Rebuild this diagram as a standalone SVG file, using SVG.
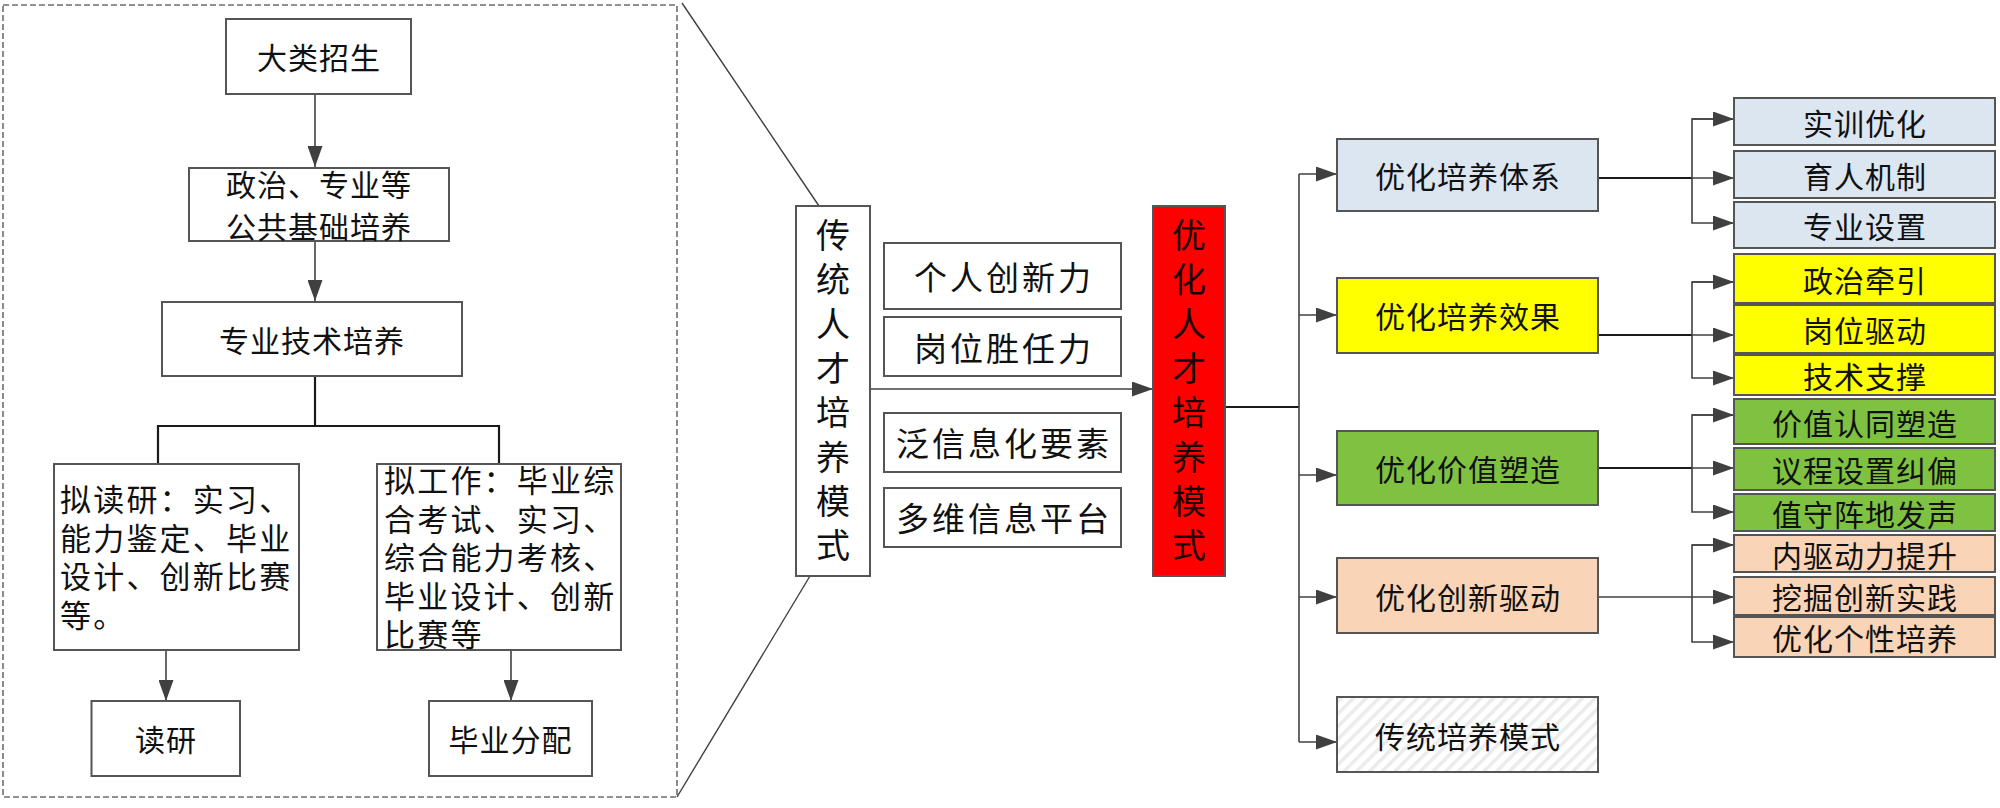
<svg xmlns="http://www.w3.org/2000/svg" width="2000" height="808" viewBox="0 0 2000 808">
<style>
text{font-family:"Noto Sans CJK SC","Noto Sans",sans-serif;fill:#111;dominant-baseline:central}
.c{text-anchor:middle}
.b{stroke:#555;stroke-width:2}
.w{fill:#fff}
.blue{fill:#dce6f1}
.yel{fill:#ffff00}
.grn{fill:#7fc242}
.pch{fill:#f9d4b7}
.red{fill:#ff0000}
.ln{fill:none;stroke:#404040;stroke-width:1.6}
.lk{fill:none;stroke:#1a1a1a;stroke-width:2.2}
.f30{font-size:30px;letter-spacing:1px}
.f32{font-size:31px;letter-spacing:2.2px}
.f34{font-size:33px;letter-spacing:3px}
.v{font-size:34px}
</style>
<defs>
<marker id="ah" viewBox="0 0 21 15" refX="21" refY="7.5" markerWidth="21" markerHeight="15" markerUnits="userSpaceOnUse" orient="auto">
<path d="M0,0 L21,7.5 L0,15 z" fill="#404040"/>
</marker>
<pattern id="hatch" width="9" height="9" patternUnits="userSpaceOnUse" patternTransform="rotate(45)">
<rect width="9" height="9" fill="#fff"/>
<rect width="3.5" height="9" fill="#ebebeb"/>
</pattern>
</defs>

<g id="frame">
<rect x="3" y="5" width="674" height="792" fill="none" stroke="#6e6e6e" stroke-width="1.6" stroke-dasharray="6,3"/>
<line x1="682" y1="3" x2="819" y2="206" stroke="#404040" stroke-width="1.4"/>
<line x1="677" y1="797" x2="810" y2="576" stroke="#404040" stroke-width="1.4"/>
</g>

<g id="connectors">
<path class="ln" d="M315,94 V167" marker-end="url(#ah)"/>
<path class="ln" d="M315,241 V301" marker-end="url(#ah)"/>
<path class="lk" d="M315,376 V426 M158,464 V426 H499 V464"/>
<path class="ln" d="M166,650 V701" marker-end="url(#ah)"/>
<path class="ln" d="M511,650 V701" marker-end="url(#ah)"/>
<path class="ln" d="M870,389 H1153" marker-end="url(#ah)"/>
<path class="lk" d="M1225,407 H1299"/>
<path class="ln" d="M1299,174 V742"/>
<path class="ln" d="M1299,174 H1337" marker-end="url(#ah)"/>
<path class="ln" d="M1299,315 H1337" marker-end="url(#ah)"/>
<path class="ln" d="M1299,475 H1337" marker-end="url(#ah)"/>
<path class="ln" d="M1299,597 H1337" marker-end="url(#ah)"/>
<path class="ln" d="M1299,742 H1337" marker-end="url(#ah)"/>
<path class="lk" d="M1598,178 H1692"/>
<path class="ln" d="M1692,178 H1734" marker-end="url(#ah)"/>
<path class="ln" d="M1734,119 H1692 V223 H1734" marker-end="url(#ah)"/>
<path class="ln" d="M1692,119 H1734" marker-end="url(#ah)"/>
<path class="lk" d="M1598,335 H1692"/>
<path class="ln" d="M1692,335 H1734" marker-end="url(#ah)"/>
<path class="ln" d="M1734,282 H1692 V378 H1734" marker-end="url(#ah)"/>
<path class="ln" d="M1692,282 H1734" marker-end="url(#ah)"/>
<path class="lk" d="M1598,468 H1692"/>
<path class="ln" d="M1692,468 H1734" marker-end="url(#ah)"/>
<path class="ln" d="M1734,415 H1692 V512 H1734" marker-end="url(#ah)"/>
<path class="ln" d="M1692,415 H1734" marker-end="url(#ah)"/>
<path class="ln" d="M1598,597 H1734" marker-end="url(#ah)"/>
<path class="ln" d="M1734,545 H1692 V642 H1734" marker-end="url(#ah)"/>
<path class="ln" d="M1692,545 H1734" marker-end="url(#ah)"/>
</g>

<g id="n_dalei"><rect class="b w" x="226" y="19" width="185" height="75"/><text class="c f30" x="319" y="56">大类招生</text></g>
<g id="n_gonggong"><rect class="b w" x="189" y="168" width="260" height="73"/><text class="c f30" x="319"><tspan x="319" y="183">政治、专业等</tspan><tspan x="319" y="225">公共基础培养</tspan></text></g>
<g id="n_zhuanye"><rect class="b w" x="162" y="302" width="300" height="74"/><text class="c f30" x="312" y="339">专业技术培养</text></g>
<g id="n_nidu"><rect class="b w" x="54" y="464" width="245" height="186"/>
<text class="f32" x="60"><tspan x="60" y="497">拟读研：实习、</tspan><tspan x="60" y="535.5">能力鉴定、毕业</tspan><tspan x="60" y="574">设计、创新比赛</tspan><tspan x="60" y="612.5">等。</tspan></text></g>
<g id="n_nigong"><rect class="b w" x="377" y="464" width="244" height="186"/>
<text class="f32" x="384"><tspan x="384" y="478">拟工作：毕业综</tspan><tspan x="384" y="516.5">合考试、实习、</tspan><tspan x="384" y="555">综合能力考核、</tspan><tspan x="384" y="593.5">毕业设计、创新</tspan><tspan x="384" y="632">比赛等</tspan></text></g>
<g id="n_duyan"><rect class="b w" x="91.5" y="701" width="148.5" height="75"/><text class="c f30" x="166" y="738">读研</text></g>
<g id="n_fenpei"><rect class="b w" x="429" y="701" width="163" height="75"/><text class="c f30" x="510.5" y="738">毕业分配</text></g>

<g id="n_chuantong"><rect class="b w" x="796" y="206" width="74" height="370"/>
<text class="c v" x="833"><tspan x="833" y="233">传</tspan><tspan x="833" y="277.3">统</tspan><tspan x="833" y="321.6">人</tspan><tspan x="833" y="365.9">才</tspan><tspan x="833" y="410.2">培</tspan><tspan x="833" y="454.5">养</tspan><tspan x="833" y="498.8">模</tspan><tspan x="833" y="543.1">式</tspan></text></g>

<g id="n_chuangxinli"><rect class="b w" x="884" y="243" width="237" height="66"/><text class="c f34" x="1004" y="276">个人创新力</text></g>
<g id="n_shengrenli"><rect class="b w" x="884" y="317" width="237" height="59"/><text class="c f34" x="1004" y="346.5">岗位胜任力</text></g>
<g id="n_fanxinxi"><rect class="b w" x="884" y="413" width="237" height="59"/><text class="c f34" x="1004" y="442">泛信息化要素</text></g>
<g id="n_duowei"><rect class="b w" x="884" y="488" width="237" height="59"/><text class="c f34" x="1004" y="517">多维信息平台</text></g>

<g id="n_youhua"><rect class="b red" x="1153" y="206" width="72" height="370"/>
<text class="c v" x="1189" style="fill:#1a0000"><tspan x="1189" y="233">优</tspan><tspan x="1189" y="277.3">化</tspan><tspan x="1189" y="321.6">人</tspan><tspan x="1189" y="365.9">才</tspan><tspan x="1189" y="410.2">培</tspan><tspan x="1189" y="454.5">养</tspan><tspan x="1189" y="498.8">模</tspan><tspan x="1189" y="543.1">式</tspan></text></g>

<g id="n_tixi"><rect class="b blue" x="1337" y="139" width="261" height="72"/><text class="c f30" x="1468" y="175">优化培养体系</text></g>
<g id="n_xiaoguo"><rect class="b yel" x="1337" y="278" width="261" height="75"/><text class="c f30" x="1468" y="315">优化培养效果</text></g>
<g id="n_jiazhi"><rect class="b grn" x="1337" y="431" width="261" height="74"/><text class="c f30" x="1468" y="468">优化价值塑造</text></g>
<g id="n_chuangxin"><rect class="b pch" x="1337" y="558" width="261" height="75"/><text class="c f30" x="1468" y="595.5">优化创新驱动</text></g>
<g id="n_chuantongmoshi"><rect class="b" fill="url(#hatch)" x="1337" y="697" width="261" height="75"/><text class="c f30" x="1468" y="734.5">传统培养模式</text></g>

<g id="n_r1"><rect class="b blue" x="1734" y="98" width="261" height="47"/><text class="c f30" x="1865" y="121.5">实训优化</text></g>
<g id="n_r2"><rect class="b blue" x="1734" y="151" width="261" height="47"/><text class="c f30" x="1865" y="174.5">育人机制</text></g>
<g id="n_r3"><rect class="b blue" x="1734" y="202" width="261" height="46"/><text class="c f30" x="1865" y="225">专业设置</text></g>
<g id="n_r4"><rect class="b yel" x="1734" y="254" width="261" height="49"/><text class="c f30" x="1865" y="278.5">政治牵引</text></g>
<g id="n_r5"><rect class="b yel" x="1734" y="305" width="261" height="48"/><text class="c f30" x="1865" y="329">岗位驱动</text></g>
<g id="n_r6"><rect class="b yel" x="1734" y="355" width="261" height="40"/><text class="c f30" x="1865" y="375">技术支撑</text></g>
<g id="n_r7"><rect class="b grn" x="1734" y="399" width="261" height="45"/><text class="c f30" x="1865" y="421.5">价值认同塑造</text></g>
<g id="n_r8"><rect class="b grn" x="1734" y="448" width="261" height="42"/><text class="c f30" x="1865" y="469">议程设置纠偏</text></g>
<g id="n_r9"><rect class="b grn" x="1734" y="494" width="261" height="37"/><text class="c f30" x="1865" y="512.5">值守阵地发声</text></g>
<g id="n_r10"><rect class="b pch" x="1734" y="535" width="261" height="37"/><text class="c f30" x="1865" y="553.5">内驱动力提升</text></g>
<g id="n_r11"><rect class="b pch" x="1734" y="577" width="261" height="38"/><text class="c f30" x="1865" y="596">挖掘创新实践</text></g>
<g id="n_r12"><rect class="b pch" x="1734" y="617" width="261" height="40"/><text class="c f30" x="1865" y="637">优化个性培养</text></g>
</svg>
